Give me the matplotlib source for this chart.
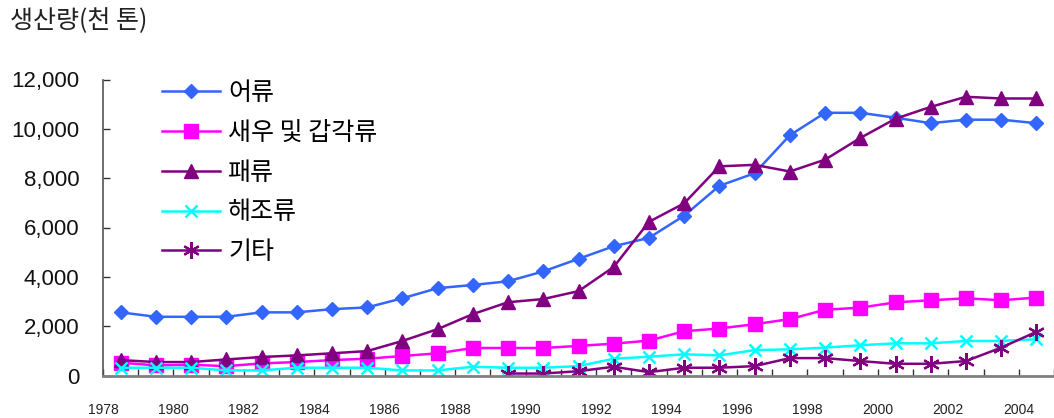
import numpy as np
import matplotlib
matplotlib.use('Agg')
from matplotlib import pyplot as plt

plt.rcParams['font.family'] = ['Liberation Sans', 'Noto Sans CJK KR', 'DejaVu Sans']

years = np.arange(1978, 2005)

fish = [2560, 2380, 2380, 2380, 2560, 2560, 2690, 2760, 3130, 3540, 3670, 3820, 4220, 4730,
        5240, 5580, 6480, 7690, 8200, 9740, 10650, 10650, 10450, 10230, 10370, 10370, 10230]
shrimp = [520, 410, 435, 380, 490, 545, 625, 680, 790, 900, 1115, 1115, 1115, 1200,
          1290, 1415, 1795, 1905, 2080, 2285, 2665, 2750, 2965, 3050, 3130, 3050, 3160]
shell = [625, 545, 545, 650, 750, 815, 900, 990, 1400, 1880, 2490, 2970, 3100, 3420,
         4400, 6230, 6980, 8480, 8540, 8270, 8750, 9630, 10410, 10890, 11300, 11230, 11230]
seaweed = [315, 315, 315, 205, 205, 315, 315, 315, 205, 205, 355, 315, 315, 380,
           680, 760, 860, 815, 1030, 1060, 1130, 1225, 1305, 1305, 1400, 1400, 1470]
other_years = np.arange(1989, 2005)
other = [80, 80, 175, 355, 135, 315, 315, 380, 705, 705, 585, 475, 475, 585, 1130, 1770]

labels = ['어류', '새우 및 갑각류', '패류', '해조류', '기타']

fig = plt.figure(figsize=(10.54, 4.18), dpi=100)
ax = fig.add_axes([103/1054, 1 - 375.5/418, 951/1054, 296/418])

lw = 1.8
ax.plot(years, fish, color='#3366ff', lw=lw, marker='D', ms=7.5, label=labels[0])
ax.plot(years, shrimp, color='#ff00ff', lw=lw, marker='s', ms=10, label=labels[1])
ax.plot(years, shell, color='#800080', lw=lw, marker='^', ms=9.5, label=labels[2])
ax.plot(years, seaweed, color='#00ffff', lw=lw, marker='x', ms=9, mew=1.8, label=labels[3])
ax.plot(other_years, other, color='#800080', lw=lw, marker=(6, 2, 0), ms=12, mew=1.6, label=labels[4])

ax.set_xlim(1977.5, 2004.5)
ax.set_ylim(0, 12000)

ticks = np.arange(1978, 2006) - 0.5
ax.set_xticks(ticks)
ax.set_xticklabels([str(y) if y % 2 == 0 else '' for y in range(1978, 2006)],
                   fontsize=10, color='#222222')
ax.set_yticks(np.arange(0, 12001, 2000))
ax.set_yticklabels(['{:,}'.format(v) for v in range(0, 12001, 2000)], fontsize=16, color='#111111')
ax.tick_params(axis='x', direction='in', length=5, width=1, pad=20, color='#333333')
ax.tick_params(axis='y', direction='in', length=5, width=1, pad=17, color='#333333')

for s in ['top', 'right']:
    ax.spines[s].set_visible(False)
ax.spines['left'].set_color('#555555')
ax.spines['left'].set_linewidth(1.2)
ax.spines['bottom'].set_color('#808080')
ax.spines['bottom'].set_linewidth(2)

ax.legend(loc='upper left', bbox_to_anchor=(162/1054, 1 - 80/418), bbox_transform=fig.transFigure,
          frameon=False, handlelength=2.32, handletextpad=0.32,
          labelspacing=0.55, borderpad=0, borderaxespad=0,
          prop={'family': ['Noto Sans CJK KR'], 'size': 18})

fig.text(10/1054, 1 - 21/418, '생산량(천 톤)', fontsize=18, va='center', ha='left',
         family=['Noto Sans CJK KR'], color='#222222')

fig.savefig('out.png', dpi=100)
